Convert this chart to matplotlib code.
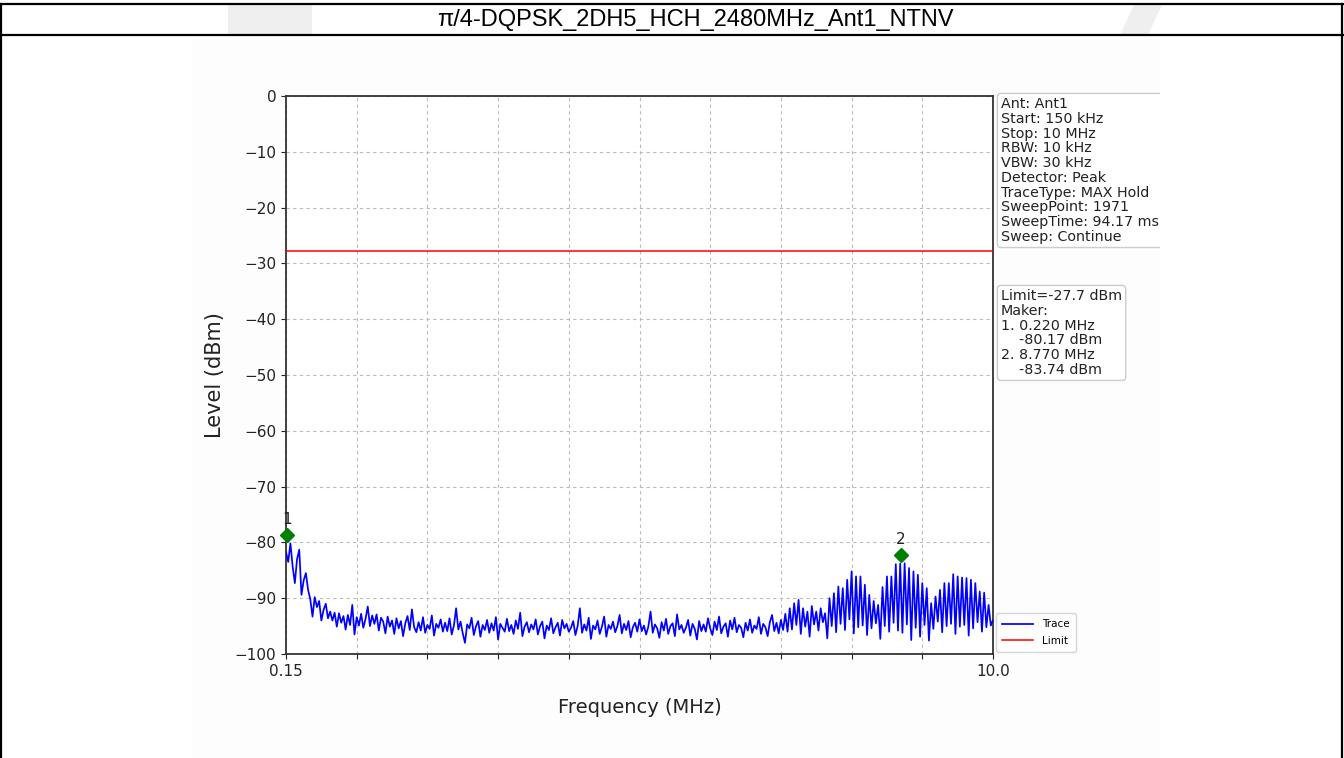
import numpy as np
import matplotlib
matplotlib.use("Agg")
import matplotlib.pyplot as plt
from matplotlib.lines import Line2D
from matplotlib.patches import Rectangle, Polygon
from matplotlib.transforms import offset_copy

# ---------------- data ----------------
title = "π/4-DQPSK_2DH5_HCH_2480MHz_Ant1_NTNV"
freq_start = 0.15   # MHz
freq_stop = 10.0    # MHz
limit_level = -27.7  # dBm

trace_levels = [
    -81.7, -83.5, -80.17, -84.3, -87.3, -83.0, -81.3, -89.4, -86.8, -85.5,
    -88.5, -90.2, -93.3, -89.8, -91.6, -90.5, -94.0, -92.1, -91.0, -93.6,
    -92.4, -94.0, -92.6, -95.1, -92.7, -94.4, -93.2, -95.6, -93.0, -94.8,
    -91.2, -96.5, -93.4, -94.9, -92.8, -95.3, -93.7, -91.5, -95.0, -93.1,
    -94.6, -92.9, -95.8, -93.5, -94.2, -96.3, -93.3, -95.1, -94.0, -96.4,
    -93.6, -95.4, -94.1, -96.8, -94.5, -93.2, -95.7, -92.0, -95.2, -96.1,
    -94.3, -95.8, -93.4, -96.2, -94.8, -95.5, -93.1, -96.7, -94.6, -95.3,
    -93.8, -96.0, -94.4, -95.9, -93.6, -96.5, -94.9, -91.8, -95.6, -94.2,
    -96.3, -98.0, -94.7, -95.4, -93.5, -96.6, -95.0, -94.1, -96.9, -94.8,
    -95.7, -93.9, -96.2, -94.5, -95.8, -93.4, -97.4, -94.6, -95.3, -96.0,
    -93.7, -95.9, -94.8, -96.4, -94.0, -95.5, -92.6, -96.8, -95.1, -94.3,
    -96.1, -94.7, -95.6, -93.8, -96.5, -95.0, -94.2, -97.2, -94.9, -95.7,
    -93.6, -96.3, -95.2, -94.4, -96.7, -93.9, -95.4, -94.6, -96.0, -95.3,
    -94.1, -96.6, -95.0, -91.8, -96.2, -94.7, -95.8, -93.5, -97.3, -94.9,
    -95.6, -94.0, -96.4, -95.1, -93.3, -96.9, -94.8, -95.5, -94.2, -96.1,
    -95.0, -93.0, -96.3, -94.6, -95.7, -94.1, -97.0, -95.2, -94.4, -96.0,
    -93.8, -95.9, -94.9, -96.5, -95.1, -92.4, -96.2, -94.7, -95.4, -97.1,
    -94.3, -95.8, -93.7, -96.4, -95.0, -94.5, -96.8, -92.9, -95.6, -94.8,
    -96.2, -95.3, -93.9, -96.7, -94.6, -95.5, -97.4, -94.1, -95.9, -94.7,
    -96.0, -93.6, -95.4, -96.6, -94.2, -95.7, -93.3, -96.3, -95.1, -94.5,
    -96.9, -94.0, -95.6, -93.5, -96.1, -94.8, -95.3, -97.0, -94.4, -95.8,
    -93.8, -96.2, -94.9, -95.5, -93.4, -96.4, -94.6, -95.2, -96.8, -94.3,
    -93.0, -95.9, -94.4, -96.3, -93.9, -95.7, -92.8, -96.0,
    -91.8, -95.6, -90.9, -94.8, -90.3, -96.4, -91.8, -95.1, -92.4, -96.9,
    -91.4, -94.7, -92.4, -95.8, -91.8, -94.3, -92.7, -97.2, -90.0, -95.0,
    -89.1, -96.1, -87.9, -94.6, -88.2, -95.7, -86.7, -93.8, -85.2, -96.3,
    -86.1, -95.2, -86.1, -94.9, -87.6, -96.6, -89.4, -95.4, -90.5, -94.5,
    -91.2, -97.3, -88.0, -95.0, -86.1, -96.0, -86.1, -94.4, -83.9, -95.8,
    -83.8, -96.2, -83.74, -94.7, -84.6, -97.5, -85.2, -95.3, -85.8, -96.9,
    -87.3, -94.8, -88.2, -97.6, -90.9, -95.5, -89.7, -94.2, -88.5, -96.1,
    -87.3, -95.0, -87.3, -94.6, -85.7, -96.4, -86.1, -95.1, -86.3, -94.8,
    -86.4, -96.7, -86.7, -95.4, -87.3, -94.3, -88.8, -96.0, -89.0, -95.2,
    -91.2, -94.9, -93.9,
]

marker_ids = ["1", "2"]
marker_freqs = [0.220, 8.770]
marker_levels = [-80.17, -83.74]

info_lines = ["Ant: Ant1", "Start: 150 kHz", "Stop: 10 MHz", "RBW: 10 kHz",
              "VBW: 30 kHz", "Detector: Peak", "TraceType: MAX Hold",
              "SweepPoint: 1971", "SweepTime: 94.17 ms", "Sweep: Continue"]
marker_lines = ["Limit=-27.7 dBm", "Maker:", "1. 0.220 MHz", "    -80.17 dBm",
                "2. 8.770 MHz", "    -83.74 dBm"]

y_ticks = [0, -10, -20, -30, -40, -50, -60, -70, -80, -90, -100]
x_tick_labels = ["0.15", "", "", "", "", "", "", "", "", "", "10.0"]

# ---------------- figure ----------------
W, H = 1344, 758
fig = plt.figure(figsize=(W / 100, H / 100), dpi=100)
fig.patch.set_facecolor("white")

def fx(px):
    return px / W

def fy(py):
    return 1 - py / H

# subtle background of the embedded chart image
fig.add_artist(Rectangle((fx(192), fy(758)), fx(1160) - fx(192), fy(37) - fy(758),
                         transform=fig.transFigure, facecolor="#fdfdfd",
                         edgecolor="none", zorder=0))
# watermark shapes in title row
wm = "#efefef"
fig.add_artist(Rectangle((fx(228), fy(35)), fx(312) - fx(228), fy(5) - fy(35),
                         transform=fig.transFigure, facecolor=wm, edgecolor="none", zorder=0))
fig.add_artist(Polygon([(fx(1120), fy(35)), (fx(1148), fy(35)), (fx(1162), fy(5)), (fx(1134), fy(5))],
                       closed=True, transform=fig.transFigure, facecolor=wm, edgecolor="none", zorder=0))

# table frame lines
for (x0, y0, x1, y1, lw) in [(0, 4, W, 4, 1.6), (0, 35, W, 35, 1.6),
                             (1, 4, 1, H, 1.6), (1342, 4, 1342, H, 1.6)]:
    fig.add_artist(Line2D([fx(x0), fx(x1)], [fy(y0), fy(y1)], transform=fig.transFigure,
                          color="black", linewidth=lw, zorder=5))

fig.text(fx(695), fy(20), title, ha="center", va="center", fontsize=17,
         family=["Liberation Sans", "DejaVu Sans"], color="black")

# ---------------- main axes ----------------
ax = fig.add_axes([fx(286), fy(654), fx(993) - fx(286), fy(96) - fy(654)])
freqs = np.linspace(freq_start, freq_stop, len(trace_levels))
ax.plot(freqs, trace_levels, color="blue", linewidth=1.25, label="Trace", zorder=3)
ax.axhline(limit_level, color="red", linewidth=1.1, label="Limit", zorder=3)

ax.set_xlim(freq_start, freq_stop)
ax.set_ylim(-100, 0)
ax.set_xticks(np.linspace(freq_start, freq_stop, len(x_tick_labels)))
ax.set_xticklabels(x_tick_labels)
ax.set_yticks(y_ticks)
ax.tick_params(labelsize=11, colors="#222222")
ax.grid(True, linestyle=(0, (3, 3)), color="#bbbbbb", linewidth=0.8)
for sp in ax.spines.values():
    sp.set_color("#333333")
    sp.set_linewidth(1.3)
ax.set_xlabel("Frequency (MHz)", fontsize=14, labelpad=14, color="#222222")
ax.set_ylabel("Level (dBm)", fontsize=15, labelpad=7, color="#222222")

# markers
mk_trans = offset_copy(ax.transData, fig=fig, x=-3, y=6, units="points")
ax.plot(marker_freqs, marker_levels, linestyle="none", marker="D", markersize=7,
        color="green", transform=mk_trans, zorder=4, clip_on=False)
for mid, mf, ml in zip(marker_ids, marker_freqs, marker_levels):
    ax.annotate(mid, (mf, ml), xytext=(-3, 12), textcoords="offset points",
                ha="center", va="bottom", fontsize=11, color="#222222")

leg = ax.legend(loc="lower left", bbox_to_anchor=(1.004, 0.004), borderaxespad=0,
                fontsize=7.5, frameon=True, handlelength=3.0, labelspacing=0.6,
                borderpad=0.6)
leg.get_frame().set_edgecolor("#cccccc")

# info boxes, clipped at the embedded image edge
clip_ax = fig.add_axes([fx(192), fy(758), fx(1160) - fx(192), fy(37) - fy(758)])
clip_ax.axis("off")
clip_ax.patch.set_alpha(0)

t1 = fig.text(fx(1001), fy(97), "\n".join(info_lines), ha="left", va="top",
              fontsize=10.3, linespacing=1.07, color="#222222",
              bbox=dict(boxstyle="round,pad=0.25", facecolor="white", edgecolor="#cccccc"))
t2 = fig.text(fx(1001), fy(289), "\n".join(marker_lines), ha="left", va="top",
              fontsize=10.3, linespacing=1.07, color="#222222",
              bbox=dict(boxstyle="round,pad=0.25", facecolor="white", edgecolor="#cccccc"))
for t in (t1, t2):
    t.set_clip_on(True)
    t.set_clip_box(clip_ax.bbox)

fig.savefig("out.png", dpi=100)
